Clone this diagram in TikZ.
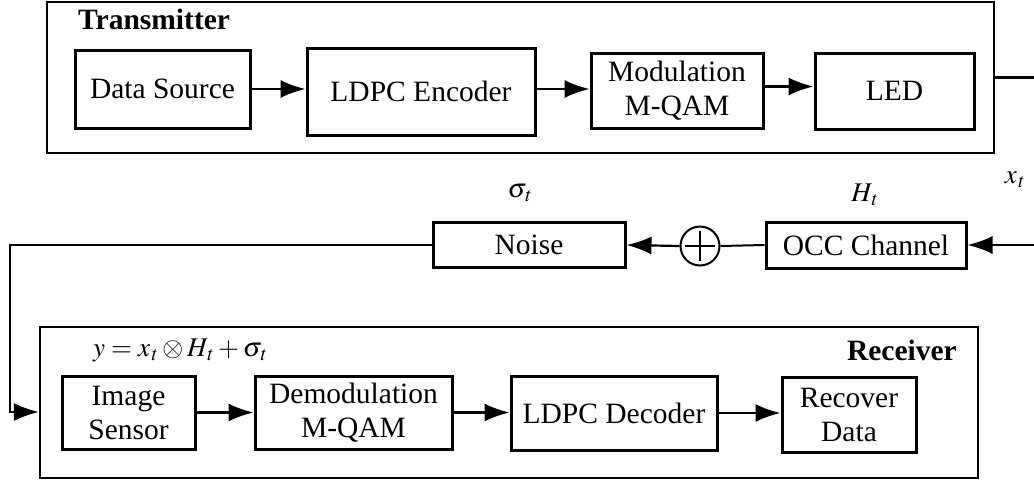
\documentclass[tikz,border=0pt]{standalone}
\usepackage{mathptmx}
\usepackage{fontspec}
\setmainfont{Liberation Serif}
\usetikzlibrary{arrows.meta,calc}
\newcommand{\subt}{_{\kern1.5pt t}}
\begin{document}
\begin{tikzpicture}[x=1pt,y=-1pt,
  every node/.style={font=\fontsize{29.5}{34}\selectfont},
  blk/.style 2 args={draw, line width=3pt, minimum width=#1, minimum height=#2, inner sep=0pt, align=center},
  outer/.style 2 args={draw, line width=2.2pt, minimum width=#1, minimum height=#2, inner sep=0pt},
  arr/.style={line width=2.2pt, -{Latex[length=25pt,width=18pt]}},
  conn/.style={line width=2pt},
  lbl/.style={font=\fontsize{27}{30}\selectfont, inner sep=0pt}]
\useasboundingbox (0,0) rectangle (1034,482);
% transmitter
\node[outer={947}{151}] (tx) at (520.5,77.5) {};
\node[anchor=base west, inner sep=0pt, font=\fontsize{29.5}{34}\selectfont\bfseries] (txl) at (78,29) {Transmitter};
\node[blk={175}{78}] (ds) at (162.5,89) {Data Source};
\node[blk={228}{87}] (enc) at (421,91.5) {LDPC Encoder};
\node[blk={172}{75}] (mod) at (677,90.5) {Modulation\\M-QAM};
\node[blk={159}{76}] (led) at (894.5,91) {LED};
\draw[arr] (ds.east) -- (ds.east -| enc.west);
\draw[arr] (enc.east |- ds.east) -- (ds.east -| mod.west);
\draw[arr] ($(mod.east)+(0,-4)$) -- ($(mod.east -| led.west)+(0,-4)$);
% channel
\node[blk={200}{46}] (occ) at (866,245) {OCC Channel};
\node[draw, circle, line width=2pt, minimum size=39pt, inner sep=0pt] (sum) at (700,246) {};
\draw[line width=2pt] ($(sum.center)+(-15,0)$) -- ($(sum.center)+(15,0)$);
\draw[line width=2pt] ($(sum.center)+(0,-15)$) -- ($(sum.center)+(0,15)$);
\node[blk={192}{45}] (noise) at (529,245) {Noise};
\node[lbl] (sig) at (520,193) {$\sigma\subt$};
\node[lbl] (ht) at (865,195) {$H\subt$};
\node[lbl] (xt) at (1015,180) {$x\subt$};
\coordinate (rc) at (1040,0);
\coordinate (lc) at (10,412);
\draw[arr] (tx.east) -- (tx.east -| rc) -- (rc |- occ.east) -- (occ.east);
\draw[conn] (occ.west) -- (sum.east);
\draw[arr] (sum.west) -- (noise.east);
% receiver
\node[outer={938}{151}] (rx) at (509,402.5) {};
\node[anchor=base east, inner sep=0pt, font=\fontsize{29.5}{34}\selectfont\bfseries] (rxl) at (957,360) {Receiver};
\node[lbl, anchor=base west] (eq) at (93,356) {$y = x\subt \otimes H\subt + \sigma\subt$};
\node[blk={133}{73}] (is) at (128.5,412.5) {Image\\Sensor};
\node[blk={197}{73}] (dm) at (353.5,412.5) {Demodulation\\M-QAM};
\node[blk={206}{74}] (dec) at (614,413) {LDPC Decoder};
\node[blk={134}{75}] (rec) at (849,414.5) {Recover\\Data};
\draw[arr] (noise.west) -| (lc) -- (lc -| rx.west);
\draw[arr] (is.east) -- (is.east -| dm.west);
\draw[arr] (dm.east) -- (dm.east -| dec.west);
\draw[arr] (dec.east) -- (dec.east -| rec.west);
\end{tikzpicture}
\end{document}
